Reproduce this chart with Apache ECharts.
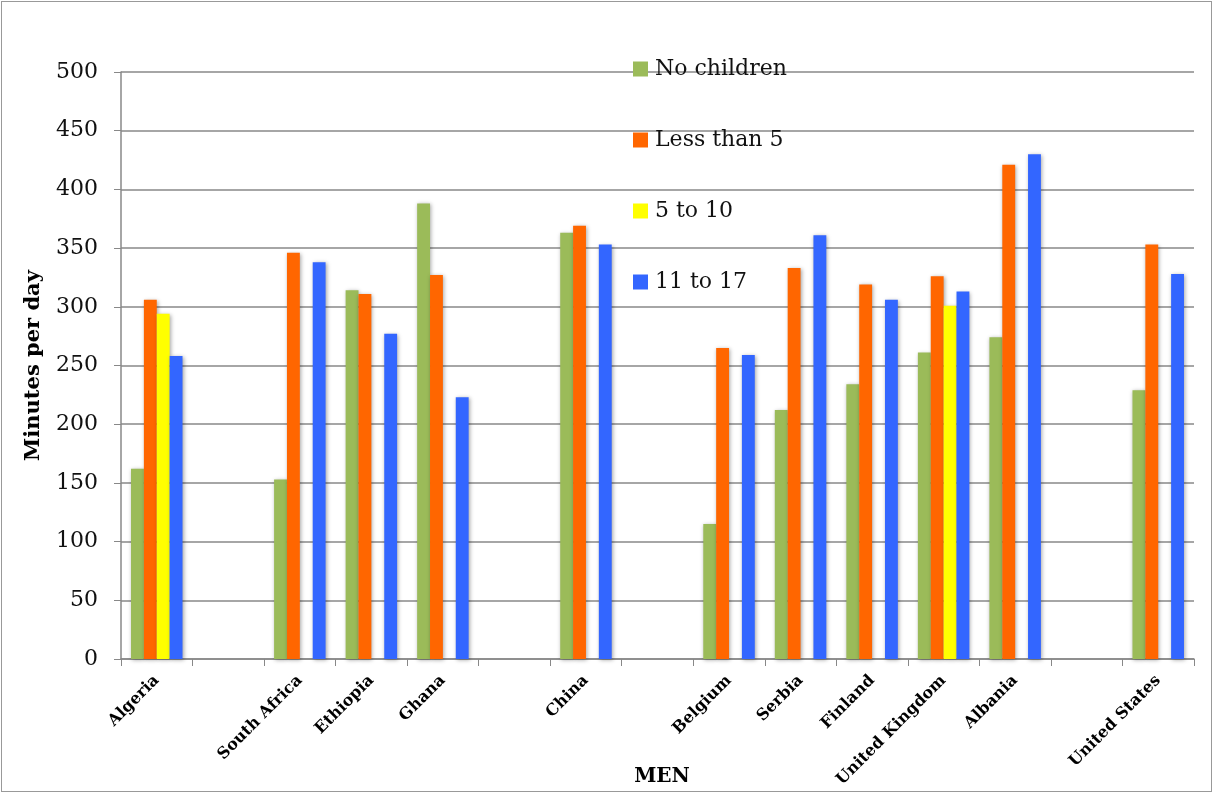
<!DOCTYPE html>
<html><head><meta charset="utf-8">
<script src="https://cdn.jsdelivr.net/npm/echarts@6/dist/echarts.min.js"></script>
<style>html,body{margin:0;padding:0;background:#fff}#c{position:absolute;left:0;top:0;width:1213px;height:793px}
#b{position:absolute;left:1px;top:1px;width:1209px;height:789px;border:1px solid #999;pointer-events:none}</style>
</head><body><div id="c"></div><div id="b"></div>
<script>
const categories = ['Algeria','','South Africa','Ethiopia','Ghana','','China','','Belgium','Serbia','Finland','United Kingdom','Albania','','United States'];
const seriesNames = ['No children','Less than 5','5 to 10','11 to 17'];
const noChildren = [162,null,153,314,388,null,363,null,115,212,234,261,274,null,229];
const lessThan5  = [306,null,346,311,327,null,369,null,265,333,319,326,421,null,353];
const fiveTo10   = [294,null,0,0,0,null,0,null,0,0,0,301,0,null,0];
const elevenTo17 = [258,null,338,277,223,null,353,null,259,361,306,313,430,null,328];
const yTicks = [0,50,100,150,200,250,300,350,400,450,500];
const colors = ['#9BBB59','#FF6600','#FFFF00','#3366FF'];
const font = '"DejaVu Serif", "Liberation Serif", serif';
const chart = echarts.init(document.getElementById('c'));
const data = [noChildren, lessThan5, fiveTo10, elevenTo17];
chart.setOption({
  animation:false,
  color: colors,
  textStyle:{fontFamily:font},
  title:{text:'MEN', left:657, top:762, textAlign:'center',
    textStyle:{fontFamily:font,fontWeight:'bold',fontSize:20,color:'#000'}},
  grid:{left:121,right:19,top:72,bottom:134,containLabel:false,outerBoundsMode:'none'},
  legend:{
    orient:'vertical', left:628, top:53, itemGap:49, itemWidth:15, itemHeight:15,
    icon:'rect',
    textStyle:{fontFamily:font,fontSize:22,color:'#111',padding:[0,0,0,2]},
    data: seriesNames
  },
  xAxis:{
    type:'category', data:categories,
    axisLine:{lineStyle:{color:'#888',width:1.5}},
    axisTick:{show:true,length:7,lineStyle:{color:'#888'}},
    axisLabel:{rotate:45,interval:0,fontFamily:font,fontWeight:'bold',fontSize:16,color:'#000',margin:19}
  },
  yAxis:{
    type:'value', min:yTicks[0], max:yTicks[yTicks.length-1], interval:50,
    name:'Minutes per day', nameLocation:'middle', nameGap:77, nameRotate:90,
    nameTextStyle:{fontFamily:font,fontWeight:'bold',fontSize:21,color:'#000'},
    axisLine:{show:true,lineStyle:{color:'#888',width:1.5}},
    axisTick:{show:true,length:7,inside:false,lineStyle:{color:'#888'}},
    axisLabel:{fontFamily:font,fontSize:22,color:'#111',margin:23},
    splitLine:{lineStyle:{color:'#888',width:1.5}}
  },
  series: seriesNames.map((n,i)=>({
    name:n, type:'bar', data:data[i], barGap:'0%', barCategoryGap:'28%',
    itemStyle:{color:colors[i], shadowColor:'rgba(0,0,0,0.35)', shadowBlur:4, shadowOffsetX:1, shadowOffsetY:1}
  }))
});
</script></body></html>
